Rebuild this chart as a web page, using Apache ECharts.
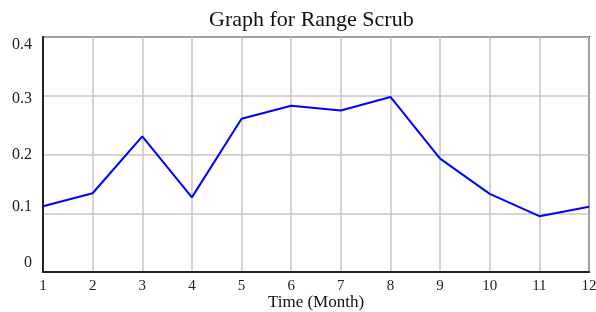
<!DOCTYPE html>
<html>
<head>
<meta charset="utf-8">
<script src="https://cdn.jsdelivr.net/npm/echarts@6/dist/echarts.min.js"></script>
<style>
  html, body { margin: 0; padding: 0; background: #fff; }
  #main { width: 596px; height: 312px; }
</style>
</head>
<body>
<div id="main"></div>
<script>
// data
var months = [1, 2, 3, 4, 5, 6, 7, 8, 9, 10, 11, 12];
var rangeScrub = [0.112, 0.134, 0.231, 0.127, 0.261, 0.283, 0.275, 0.298, 0.193, 0.133, 0.095, 0.111];
var yTicks = ['0', '0.1', '0.2', '0.3', '0.4'];

var points = [];
for (var i = 0; i < months.length; i++) {
  points.push([months[i], rangeScrub[i]]);
}

var serif = '"Liberation Serif", "DejaVu Serif", serif';

// the y labels in the original drift off their grid lines a little
var labelRich = {
  p0: { fontFamily: serif, fontSize: 16, color: '#222', padding: [0, 0, 18, 0] },
  p1: { fontFamily: serif, fontSize: 16, color: '#222', padding: [0, 0, 12, 0] },
  p2: { fontFamily: serif, fontSize: 16, color: '#222', padding: [0, 0, 0, 0] },
  p3: { fontFamily: serif, fontSize: 16, color: '#222', padding: [6, 0, 0, 0] },
  p4: { fontFamily: serif, fontSize: 16, color: '#222', padding: [16, 0, 0, 0] }
};

var myChart = echarts.init(document.getElementById('main'));
var option = {
  backgroundColor: '#fff',
  animation: false,
  title: {
    text: 'Graph for Range Scrub',
    left: 204,
    top: 4,
    textStyle: { fontFamily: serif, fontSize: 22, fontWeight: 'normal', color: '#111' }
  },
  grid: {
    left: 43, right: 7, top: 37, bottom: 40,
    outerBoundsMode: 'none',
    show: true,
    borderColor: '#333',
    borderWidth: 2
  },
  xAxis: {
    type: 'value',
    min: 1,
    max: 12,
    interval: 1,
    name: 'Time (Month)',
    nameLocation: 'middle',
    nameGap: 22,
    nameMoveOverlap: false,
    nameTextStyle: { fontFamily: serif, fontSize: 17, color: '#111' },
    axisLine: { show: true, lineStyle: { color: '#222', width: 2 } },
    axisTick: { show: false },
    axisLabel: { fontFamily: serif, fontSize: 15, color: '#222', margin: 7 },
    splitLine: { show: true, lineStyle: { color: '#c6c6c6', width: 1.5 } }
  },
  yAxis: {
    type: 'value',
    min: 0,
    max: 0.4,
    interval: 0.1,
    axisLine: { show: true, lineStyle: { color: '#222', width: 2 } },
    axisTick: { show: false },
    axisLabel: {
      margin: 11,
      formatter: function (v, idx) {
        return '{p' + idx + '|' + yTicks[idx] + '}';
      },
      rich: labelRich
    },
    splitLine: { show: true, lineStyle: { color: '#c6c6c6', width: 1.5 } }
  },
  series: [{
    name: 'Range Scrub',
    type: 'line',
    data: points,
    symbol: 'none',
    lineStyle: { color: '#0000ff', width: 2 }
  }]
};
myChart.setOption(option);
</script>
</body>
</html>
